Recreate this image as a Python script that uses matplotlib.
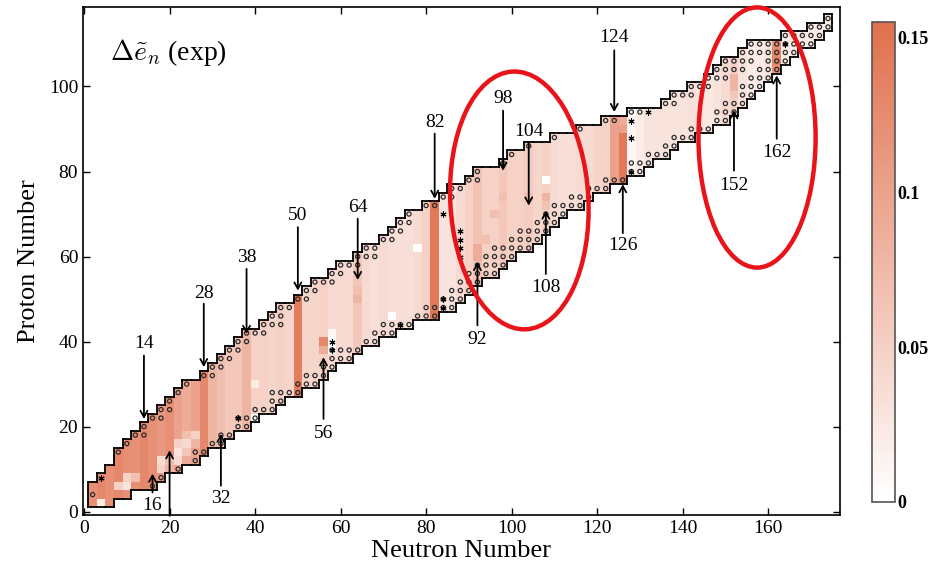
#!/usr/bin/env python3
"""Mapa de Delta e_n experimental na carta de nuclideos par-par."""

import numpy as np
import matplotlib

matplotlib.use("Agg")
import matplotlib.pyplot as plt
from matplotlib.colors import LinearSegmentedColormap
from matplotlib.collections import LineCollection
from matplotlib.patches import Ellipse

plt.rcParams["font.family"] = ["Liberation Serif", "DejaVu Serif"]
plt.rcParams["mathtext.fontset"] = "cm"

# linhas de Z par: limites em N (lado rico em protons / rico em neutrons)
Z_ROWS = list(range(2, 118, 2))
N_LO = [2, 2, 2, 4, 6, 8, 8, 10, 12, 14, 16, 18, 20, 22, 24, 28, 30, 32, 34, 36,
        38, 42, 44, 46, 50, 52, 54, 58, 60, 64, 66, 70, 72, 74, 76, 80, 84, 86, 90, 92,
        98, 100, 104, 110, 116, 122, 128, 136, 138, 142, 146, 148, 150, 154, 156, 164,
        170, 174]
N_HI = [6, 10, 16, 18, 22, 26, 28, 32, 34, 38, 40, 44, 46, 50, 54, 56, 58, 62, 64, 68,
        72, 76, 82, 86, 88, 90, 92, 96, 98, 100, 104, 106, 108, 110, 112, 116, 118, 122,
        126, 130, 132, 136, 138, 142, 146, 150, 152, 154, 156, 158, 160, 162, 164, 166,
        170, 172, 174, 174]
# quantidade de celulas "o" em cada extremidade da linha
O_LO = [0, 1, 0, 0, 0, 0, 1, 1, 2, 1, 2, 2, 1, 1, 1, 2, 2, 2, 2, 2,
        3, 3, 2, 2, 2, 2, 3, 2, 3, 3, 2, 2, 2, 2, 1, 2, 2, 2, 2, 1,
        1, 1, 1, 1, 1, 2, 2, 2, 3, 3, 3, 4, 4, 4, 5, 4, 3, 1]
O_HI = [0, 0, 1, 1, 1, 1, 2, 2, 2, 2, 3, 3, 2, 4, 3, 3, 2, 3, 4, 2,
        3, 4, 3, 4, 3, 3, 3, 4, 4, 4, 5, 4, 4, 3, 3, 4, 3, 3, 3, 2,
        3, 3, 2, 3, 3, 2, 3, 3, 2, 3, 3, 3, 3, 3, 5, 5, 3, 1]

# nivel medio de cada coluna N (par)
N_COLS = list(range(2, 176, 2))
COL_LEVEL = [0.12, 0.13, 0.12, 0.13, 0.12, 0.12, 0.13, 0.12, 0.11, 0.12,
             0.10, 0.09, 0.10, 0.13, 0.08, 0.07, 0.06, 0.06, 0.08, 0.05,
             0.05, 0.045, 0.05, 0.045, 0.14, 0.045, 0.045, 0.05, 0.04, 0.04,
             0.04, 0.06, 0.04, 0.035, 0.04, 0.035, 0.035, 0.035, 0.04, 0.05,
             0.145, 0.03, 0.03, 0.04, 0.05, 0.065, 0.05, 0.05, 0.06, 0.05,
             0.05, 0.055, 0.045, 0.05, 0.04, 0.035, 0.035, 0.04, 0.04, 0.045,
             0.05, 0.10, 0.145, 0.01, 0.02, 0.03, 0.03, 0.03, 0.03, 0.03,
             0.035, 0.03, 0.025, 0.03, 0.04, 0.05, 0.03, 0.02, 0.02, 0.03,
             0.12, 0.02, 0.02, 0.02, 0.02, 0.02, 0.02]

# celulas que se destacam da coluna: (N, Z, valor)
CELL_VALUES = [
    (4, 2, 0.02), (8, 6, 0.05), (10, 6, 0.03), (10, 8, 0.05), (12, 8, 0.07),
    (18, 10, 0.05), (18, 12, 0.04), (20, 12, 0.07), (22, 12, 0.04), (22, 14, 0.03),
    (22, 16, 0.05), (24, 14, 0.06), (24, 16, 0.04), (20, 10, 0.08), (24, 18, 0.07),
    (26, 16, 0.08), (26, 18, 0.05), (40, 22, 0.0), (40, 30, 0.02),
    (56, 40, 0.13), (56, 38, 0.09), (58, 40, 0.0), (58, 38, 0.0), (58, 42, 0.01),
    (64, 50, 0.08), (64, 52, 0.07), (78, 62, 0.0), (72, 46, 0.0),
    (92, 60, 0.09), (92, 62, 0.09), (94, 64, 0.07), (96, 70, 0.07), (98, 74, 0.07),
    (104, 74, 0.07), (108, 78, 0.0), (108, 74, 0.08), (108, 72, 0.065),
    (126, 90, 0.10), (126, 92, 0.09),
    (152, 98, 0.06), (152, 100, 0.08), (152, 102, 0.08),
    (162, 104, 0.12), (162, 106, 0.13), (162, 108, 0.13), (162, 110, 0.12),
]

STARS = [(4, 8), (36, 22), (58, 40), (58, 38), (74, 44), (84, 48), (84, 50),
         (84, 70), (88, 60), (88, 62), (88, 64), (88, 66), (128, 80), (128, 88),
         (128, 92), (132, 94), (164, 110)]

# setas: (rotulo, N, Z do texto, Z inicial, Z da ponta)
ARROWS_DOWN = [
    ("14", 14, 39.5, 36.7, 21.8), ("28", 28, 51.3, 48.9, 34.0),
    ("38", 38, 59.8, 57.1, 41.8), ("50", 50, 69.6, 66.9, 52.0),
    ("64", 64, 71.6, 68.9, 54.5), ("82", 82, 91.6, 88.9, 73.6),
    ("98", 98, 97.2, 94.3, 80.2), ("104", 104, 89.3, 86.9, 72.0),
    ("124", 124, 111.6, 108.5, 94.0),
]
ARROWS_UP = [
    ("16", 16, 1.4, 4.5, 8.9), ("", 20, -1.0, -1.0, 14.4),
    ("32", 32, 3.0, 6.1, 18.3), ("56", 56, 18.3, 21.8, 36.3),
    ("92", 92, 40.6, 43.8, 58.7), ("108", 108, 52.8, 55.9, 70.8),
    ("126", 126, 62.5, 65.5, 77.0), ("152", 152, 76.7, 80.2, 94.4),
    ("162", 162, 84.5, 87.7, 102.6),
]

# elipses vermelhas: (N centro, Z centro, largura, altura, angulo)
ELLIPSES = [(101.8, 73.2, 32.3, 60.7, 3.0), (157.4, 88.0, 27.4, 61.2, 0.0)]

VMAX = 0.155
CMAP = LinearSegmentedColormap.from_list("en", ["#FFFFFF", "#E0704D"])


def build_grid():
    nz, nn = len(Z_ROWS), len(N_COLS)
    values = np.full((nz, nn), np.nan)
    inside = np.zeros((nz, nn), dtype=bool)
    circles = []
    for i, z in enumerate(Z_ROWS):
        row_cells = list(range(N_LO[i], N_HI[i] + 1, 2))
        for n in row_cells:
            j = N_COLS.index(n)
            inside[i, j] = True
            values[i, j] = COL_LEVEL[j]
        marked = row_cells[:O_LO[i]] + row_cells[len(row_cells) - O_HI[i]:]
        circles += [(n, z) for n in set(marked)]
    for n, z, v in CELL_VALUES:
        i, j = Z_ROWS.index(z), N_COLS.index(n)
        if inside[i, j]:
            values[i, j] = v
    return np.ma.masked_invalid(values), inside, circles


def outline_segments(inside):
    nz, nn = inside.shape
    segs = []
    for i in range(nz):
        for j in range(nn):
            if not inside[i, j]:
                continue
            n, z = N_COLS[j], Z_ROWS[i]
            x0, x1, y0, y1 = n - 1, n + 1, z - 1, z + 1
            if j == 0 or not inside[i, j - 1]:
                segs.append([(x0, y0), (x0, y1)])
            if j == nn - 1 or not inside[i, j + 1]:
                segs.append([(x1, y0), (x1, y1)])
            if i == 0 or not inside[i - 1, j]:
                segs.append([(x0, y0), (x1, y0)])
            if i == nz - 1 or not inside[i + 1, j]:
                segs.append([(x0, y1), (x1, y1)])
    return segs


def main():
    values, inside, circles = build_grid()

    fig = plt.figure(figsize=(9.35, 5.69), dpi=100)
    ax = fig.add_axes([83 / 935, 1 - 515 / 569, 757 / 935, 508 / 569])
    cax = fig.add_axes([872 / 935, 1 - 502 / 569, 23 / 935, 480 / 569])

    n_edges = np.append(np.array(N_COLS) - 1, N_COLS[-1] + 1)
    z_edges = np.append(np.array(Z_ROWS) - 1, Z_ROWS[-1] + 1)
    mesh = ax.pcolormesh(n_edges, z_edges, values, cmap=CMAP, vmin=0, vmax=VMAX,
                         shading="flat", edgecolors="none", antialiased=False)

    ax.add_collection(LineCollection(outline_segments(inside), colors="black",
                                     linewidths=1.3, capstyle="projecting"))

    cx, cy = zip(*circles)
    ax.scatter(cx, cy, s=9, facecolors="none", edgecolors="#2a2a2a",
               linewidths=0.9, zorder=3)
    sx, sy = zip(*STARS)
    ax.scatter(sx, sy, s=14, marker=(6, 2, 0), color="black", linewidths=0.8, zorder=3)

    arrow_kw = dict(arrowstyle="->,head_length=0.45,head_width=0.25",
                    color="black", lw=1.3, shrinkA=0, shrinkB=0)
    for label, n, zt, z0, z1 in ARROWS_DOWN + ARROWS_UP:
        ax.annotate("", xy=(n, z1), xytext=(n, z0), arrowprops=arrow_kw,
                    annotation_clip=False)
        if label:
            ax.text(n, zt, label, ha="center", va="center", fontsize=14)

    for n, z, w, h, ang in ELLIPSES:
        ax.add_patch(Ellipse((n, z), w, h, angle=ang, fill=False,
                             edgecolor="#E8141A", linewidth=3.2, clip_on=False,
                             zorder=5))

    ax.text(0.036, 0.911, r"$\Delta\tilde{e}_n$ (exp)", transform=ax.transAxes,
            fontsize=20, va="center", ha="left")

    ax.set_xlim(-0.25, 176.8)
    ax.set_ylim(-0.8, 118.7)
    ax.set_xticks(range(0, 161, 20))
    ax.set_yticks(range(0, 101, 20))
    ax.tick_params(direction="in", length=5, width=1, labelsize=14,
                   top=True, right=True)
    for spine in ax.spines.values():
        spine.set_linewidth(1.2)
    ax.set_xlabel("Neutron Number", fontsize=19, labelpad=2)
    ax.set_ylabel("Proton Number", fontsize=19, labelpad=6)

    cbar = fig.colorbar(mesh, cax=cax, ticks=[0, 0.05, 0.1, 0.15])
    cbar.ax.set_yticklabels(["0", "0.05", "0.1", "0.15"], fontweight="bold")
    cbar.ax.tick_params(length=0, labelsize=13, pad=2)
    cbar.outline.set_edgecolor("#555555")
    cbar.outline.set_linewidth(1.2)

    fig.savefig("out.png", dpi=100)
    plt.close(fig)


if __name__ == "__main__":
    main()
